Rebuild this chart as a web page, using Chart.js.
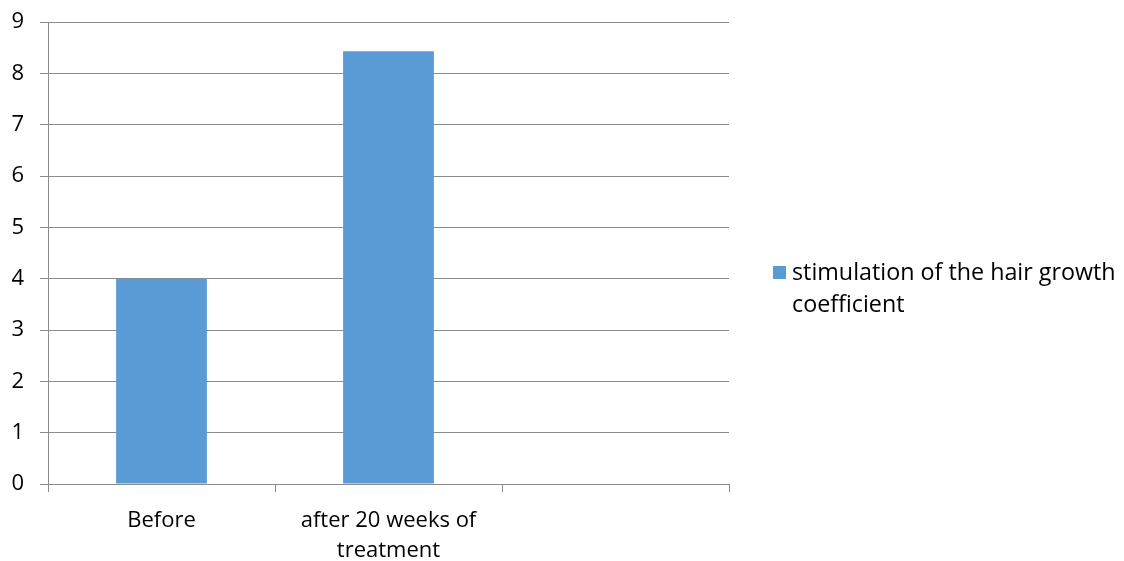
<!DOCTYPE html>
<html>
<head>
<meta charset="utf-8">
<script src="https://cdn.jsdelivr.net/npm/chart.js@4/dist/chart.umd.min.js"></script>
<style>
  html, body { margin: 0; padding: 0; background: #fff; }
  #wrap { position: relative; width: 1124px; height: 561px; }
  #legend {
    position: absolute; left: 773px; top: 255px; width: 350px;
    font-family: "Open Sans", "Liberation Sans", sans-serif; font-size: 23.3px;
    line-height: 32px; color: #000; white-space: nowrap;
  }
  #legend .box {
    display: inline-block; width: 13px; height: 13px; background: #5B9BD5;
    margin-right: 6px; vertical-align: 1px;
  }
  #legend .l2 { padding-left: 19px; }
</style>
</head>
<body>
<div id="wrap">
  <canvas id="chart" width="1124" height="561"></canvas>
  <div id="legend"></div>
</div>
<script>
// données
const categories = ['Before', ['after 20 weeks of', 'treatment'], ''];
const seriesName = 'stimulation of the hair growth coefficient';
const hairGrowth = [4, 8.43, null];
const yTicks = [0, 1, 2, 3, 4, 5, 6, 7, 8, 9];

const gris = '#8c8c8c';
const police = { family: '"Open Sans", "Liberation Sans", sans-serif', size: 22, lineHeight: 1.36 };

document.getElementById('legend').innerHTML =
    '<span class="box"></span>stimulation of the hair growth<br><span class="l2">coefficient</span>';

const ctx = document.getElementById('chart').getContext('2d');
new Chart(ctx, {
    type: 'bar',
    data: {
        labels: categories,
        datasets: [{
            label: seriesName,
            data: hairGrowth,
            backgroundColor: '#5B9BD5',
            barPercentage: 0.4,
            categoryPercentage: 1.0,
        }]
    },
    options: {
        responsive: false,
        animation: false,
        layout: { padding: { left: 0, right: 395, top: 22, bottom: 0 } },
        plugins: {
            legend: { display: false },
            tooltip: { enabled: false }
        },
        scales: {
            x: {
                grid: {
                    offset: true,
                    drawOnChartArea: false,
                    drawTicks: true,
                    tickLength: 8,
                    color: gris,
                },
                border: { color: gris },
                ticks: {
                    color: '#000',
                    font: police,
                    padding: 14,
                    maxRotation: 0,
                    autoSkip: false,
                },
                afterFit: (scale) => {
                    scale.height = 77;
                    scale.paddingLeft = 0;
                    scale.paddingRight = 0;
                }
            },
            y: {
                min: 0,
                max: 9,
                afterBuildTicks: (scale) => { scale.ticks = yTicks.map(v => ({ value: v })); },
                grid: {
                    color: gris,
                    tickLength: 8,
                },
                border: { color: gris },
                ticks: {
                    color: '#000',
                    font: { family: police.family, size: 22 },
                    padding: 16,
                },
                afterFit: (scale) => {
                    scale.width = 48;
                    scale.paddingTop = 0;
                    scale.paddingBottom = 0;
                }
            }
        }
    }
});
</script>
</body>
</html>
